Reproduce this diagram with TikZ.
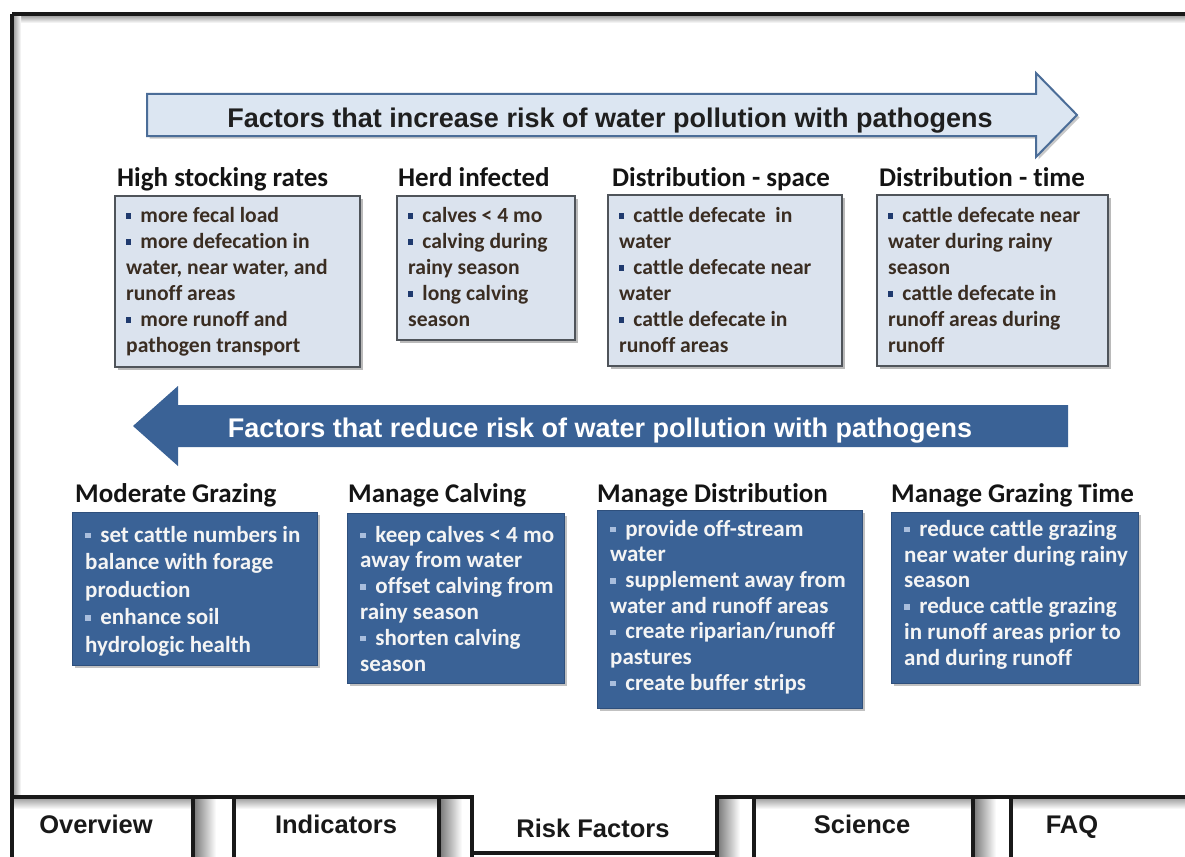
\documentclass[tikz,border=0pt]{standalone}
\usepackage{fontspec}
\setmainfont{Carlito}[Ligatures={NoCommon}]
\newfontfamily\lsans{Liberation Sans}
\usetikzlibrary{shadows}
\definecolor{arrowlight}{HTML}{DCE6F2}
\definecolor{arrowedge}{HTML}{4B6D98}
\definecolor{darkblue}{HTML}{3A6296}
\definecolor{darkedge}{HTML}{2E4F7C}
\definecolor{boxlight}{HTML}{DBE3EE}
\definecolor{boxedge}{HTML}{4F545A}
\definecolor{browntext}{HTML}{3A2D22}
\definecolor{navybul}{HTML}{1F3A6E}
\definecolor{lightbul}{HTML}{A9BEDD}
\definecolor{whitetext}{HTML}{F4F4F4}
\newcommand{\bq}[1]{{\color{#1}\rule[0.17em]{0.24em}{0.24em}}\hspace{0.42em}}
\tikzset{
  lightbox/.style={draw=boxedge, line width=1.8pt, fill=boxlight, inner sep=0pt, outer sep=0pt,
    drop shadow={shadow xshift=2.5pt, shadow yshift=-2.5pt, opacity=.45, fill=black!60}},
  darkbox/.style={draw=darkedge, line width=1pt, fill=darkblue, inner sep=0pt, outer sep=0pt,
    drop shadow={shadow xshift=2.5pt, shadow yshift=-2.5pt, opacity=.4, fill=black!60}},
  hdr/.style={anchor=base west, inner sep=0pt, font=\fontsize{27}{32}\selectfont\bfseries, text=black!92},
  toptext/.style={anchor=north west, inner sep=0pt, align=left, font=\fontsize{21.6}{26}\selectfont\bfseries, text=browntext},
  bottext/.style={anchor=north west, inner sep=0pt, align=left, text=whitetext},
  arrowtext/.style={anchor=base, inner sep=0pt, font=\lsans\bfseries\fontsize{27}{32}\selectfont},
  tabtext/.style={anchor=base, inner sep=0pt, font=\lsans\bfseries\fontsize{25.5}{30}\selectfont, text=black!90},
  tabline/.style={line width=3.5pt, black!90},
}
\begin{document}
\begin{tikzpicture}[x=1pt,y=-1pt]
\useasboundingbox (0,0) rectangle (1185,856);
\clip (0,0) rectangle (1185,856);
\fill[white] (0,0) rectangle (1185,856);

% frame shadows
\shade[top color=black!35, bottom color=white] (14,16) rectangle (1185,23);
\shade[left color=black!35, right color=white] (14,16) rectangle (21,795);
\shade[top color=black!35, bottom color=white] (14,799) rectangle (191,809);
\shade[top color=black!35, bottom color=white] (236,799) rectangle (437,809);
\shade[top color=black!35, bottom color=white] (756,799) rectangle (971,809);
\shade[top color=black!35, bottom color=white] (1013,799) rectangle (1185,809);
\shade[left color=black!50, right color=white] (195,799) rectangle (216,856);
\shade[left color=black!50, right color=white] (441,799) rectangle (462,856);
\shade[left color=black!50, right color=white] (719,799) rectangle (740,856);
\shade[left color=black!50, right color=white] (975,799) rectangle (996,856);

% frame and tabs
\draw[tabline] (12,14) -- (1190,14);
\draw[tabline] (12,14) -- (12,860);
\draw[tabline] (12,797) -- (472,797) -- (472,860);
\draw[tabline] (1190,797) -- (717,797) -- (717,860);
\draw[tabline] (472,853) -- (717,853);
\draw[tabline] (193,797) -- (193,860);
\draw[tabline] (234,797) -- (234,860);
\draw[tabline] (439,797) -- (439,860);
\draw[tabline] (754,797) -- (754,860);
\draw[tabline] (973,797) -- (973,860);
\draw[tabline] (1011,797) -- (1011,860);

\node[tabtext] (tab1) at (96,833) {Overview};
\node[tabtext] (tab2) at (336,833) {Indicators};
\node[tabtext] (tab3) at (593,837) {Risk Factors};
\node[tabtext] (tab4) at (862,833) {Science};
\node[tabtext] (tab5) at (1072,833) {FAQ};

% top arrow
\draw[arrowedge, line width=2pt, fill=arrowlight,
  drop shadow={shadow xshift=2.5pt, shadow yshift=-2.5pt, opacity=.35, fill=black!60}]
  (147,94) -- (1036,94) -- (1036,73) -- (1077,115) -- (1036,157) -- (1036,136) -- (147,136) -- cycle;
\node[arrowtext, text=black!88] (inc) at (610,128) {Factors that increase risk of water pollution with pathogens};

% bottom arrow
\fill[darkblue] (1068,405) -- (178,405) -- (178,386) -- (133,426) -- (178,466) -- (178,447) -- (1068,447) -- cycle;
\node[arrowtext, text=white] (red) at (600,437) {Factors that reduce risk of water pollution with pathogens};

% top headers
\node[hdr] (h1) at (117,186) {High stocking rates};
\node[hdr] (h2) at (398,186) {Herd infected};
\node[hdr] (h3) at (612,186) {Distribution - space};
\node[hdr] (h4) at (879,186) {Distribution - time};

% top boxes
\node[lightbox, anchor=north west, minimum width=245pt, minimum height=171pt] (b1) at (115,196) {};
\node[lightbox, anchor=north west, minimum width=178pt, minimum height=144pt] (b2) at (397,196) {};
\node[lightbox, anchor=north west, minimum width=234pt, minimum height=171pt] (b3) at (608,195) {};
\node[lightbox, anchor=north west, minimum width=231pt, minimum height=171pt] (b4) at (877,195) {};

\node[toptext] (t1) at (126,203.8) {\strut\bq{navybul}more fecal load\\
\bq{navybul}more defecation in\\
water, near water, and\\
runoff areas\\
\bq{navybul}more runoff and\\
pathogen transport};
\node[toptext] (t2) at (408,203.8) {\strut\bq{navybul}calves < 4 mo\\
\bq{navybul}calving during\\
rainy season\\
\bq{navybul}long calving\\
season};
\node[toptext] (t3) at (619,203.8) {\strut\bq{navybul}cattle defecate\ \ in\\
water\\
\bq{navybul}cattle defecate near\\
water\\
\bq{navybul}cattle defecate in\\
runoff areas};
\node[toptext] (t4) at (888,203.8) {\strut\bq{navybul}cattle defecate near\\
water during rainy\\
season\\
\bq{navybul}cattle defecate in\\
runoff areas during\\
runoff};

% bottom headers
\node[hdr] (g1) at (75,502) {Moderate Grazing};
\node[hdr] (g2) at (348,502) {Manage Calving};
\node[hdr] (g3) at (597,502) {Manage Distribution};
\node[hdr] (g4) at (891,502) {Manage Grazing Time};

% bottom boxes
\node[darkbox, anchor=north west, minimum width=245pt, minimum height=153pt] (d1) at (72,512) {};
\node[darkbox, anchor=north west, minimum width=217pt, minimum height=170pt] (d2) at (347,513) {};
\node[darkbox, anchor=north west, minimum width=265pt, minimum height=198pt] (d3) at (597,510) {};
\node[darkbox, anchor=north west, minimum width=247pt, minimum height=171pt] (d4) at (891,512) {};

\node[bottext, font=\fontsize{23}{27.5}\selectfont\bfseries] (u1) at (85,522.75) {\strut\bq{lightbul}set cattle numbers in\\
balance with forage\\
production\\
\bq{lightbul}enhance soil\\
hydrologic health};
\node[bottext, font=\fontsize{23}{25.8}\selectfont\bfseries] (u2) at (360,523.9) {\strut\bq{lightbul}keep calves < 4 mo\\
away from water\\
\bq{lightbul}offset calving from\\
rainy season\\
\bq{lightbul}shorten calving\\
season};
\node[bottext, font=\fontsize{23}{25.7}\selectfont\bfseries] (u3) at (610,518) {\strut\bq{lightbul}provide off-stream\\
water\\
\bq{lightbul}supplement away from\\
water and runoff areas\\
\bq{lightbul}create riparian/runoff\\
pastures\\
\bq{lightbul}create buffer strips};
\node[bottext, font=\fontsize{23}{25.8}\selectfont\bfseries] (u4) at (904,518) {\strut\bq{lightbul}reduce cattle grazing\\
near water during rainy\\
season\\
\bq{lightbul}reduce cattle grazing\\
in runoff areas prior to\\
and during runoff};
\end{tikzpicture}
\end{document}
